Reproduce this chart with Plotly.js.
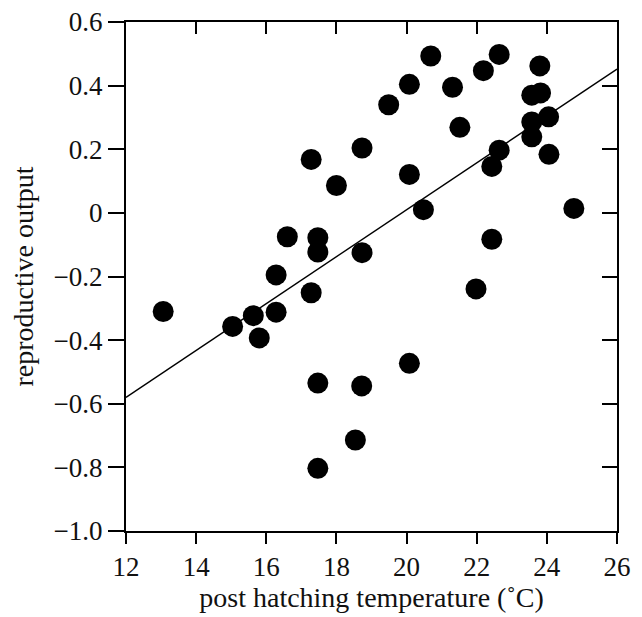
<!DOCTYPE html>
<html>
<head>
<meta charset="utf-8">
<script src="https://cdn.plot.ly/plotly-3.0.1.min.js"></script>
<style>
html,body{margin:0;padding:0;background:#fff;}
#chart{width:642px;height:617px;}
</style>
</head>
<body>
<div id="chart"></div>
<script>
// post hatching temperature (°C)
const temperature = [13.06, 15.04, 15.63, 15.80, 16.28, 16.28, 16.60, 17.28, 17.28, 17.47,
  17.47, 17.47, 17.47, 18.00, 18.73, 18.73, 18.72, 18.54, 19.49, 20.08,
  20.08, 20.08, 20.48, 20.69, 21.31, 21.52, 21.98, 22.19, 22.64, 22.64,
  22.43, 22.43, 23.57, 23.82, 23.80, 23.57, 23.57, 24.05, 24.06, 24.77];
// reproductive output
const output = [-0.310, -0.357, -0.323, -0.393, -0.312, -0.195, -0.075, -0.251, 0.168, -0.078,
  -0.123, -0.535, -0.803, 0.086, 0.204, -0.125, -0.544, -0.714, 0.340, 0.404,
  0.121, -0.473, 0.010, 0.493, 0.395, 0.269, -0.239, 0.447, 0.498, 0.197,
  0.146, -0.083, 0.370, 0.377, 0.462, 0.286, 0.239, 0.302, 0.184, 0.014];
// regression line end points
const fitX = [12, 26];
const fitY = [-0.580, 0.452];

const xTicks = [12, 14, 16, 18, 20, 22, 24, 26];
const xTickText = ['12', '14', '16', '18', '20', '22', '24', '26'];
const yTicks = [-1.0, -0.8, -0.6, -0.4, -0.2, 0, 0.2, 0.4, 0.6];
const yTickText = ['\u22121.0', '\u22120.8', '\u22120.6', '\u22120.4', '\u22120.2', '0', '0.2', '0.4', '0.6'];

const FONT = 'Liberation Serif, Times New Roman, serif';

const traces = [
  {
    x: fitX, y: fitY, type: 'scatter', mode: 'lines',
    line: {color: '#000', width: 1.4},
    hoverinfo: 'skip', showlegend: false
  },
  {
    x: temperature, y: output, type: 'scatter', mode: 'markers',
    marker: {color: '#000', size: 21, line: {width: 0}},
    showlegend: false
  },
  {
    x: fitX, y: fitY, xaxis: 'x2', yaxis: 'y2', type: 'scatter', mode: 'lines',
    line: {color: 'rgba(0,0,0,0)', width: 0},
    hoverinfo: 'skip', showlegend: false
  }
];

const layout = {
  width: 642, height: 617,
  margin: {l: 126, r: 25, t: 22, b: 86},
  paper_bgcolor: '#fff', plot_bgcolor: '#fff',
  font: {family: FONT, color: '#111', size: 27},
  showlegend: false,
  xaxis: {
    range: [12, 26], showgrid: false, zeroline: false,
    showline: true, linecolor: '#000', linewidth: 2,
    ticks: 'outside', ticklen: 11, tickwidth: 2, tickcolor: '#000',
    tickvals: xTicks, ticktext: xTickText,
    tickfont: {family: FONT, size: 27, color: '#111'},
    title: {text: 'post hatching temperature (\u02DAC)', font: {family: FONT, size: 28, color: '#111'}, standoff: 6},
    fixedrange: true
  },
  yaxis: {
    range: [-1.0, 0.6], showgrid: false, zeroline: false,
    showline: true, linecolor: '#000', linewidth: 2,
    ticks: 'outside', ticklen: 16, tickwidth: 2, tickcolor: '#000',
    tickvals: yTicks, ticktext: yTickText,
    tickfont: {family: FONT, size: 27, color: '#111'},
    title: {text: 'reproductive output', font: {family: FONT, size: 28, color: '#111'}, standoff: 12},
    fixedrange: true
  },
  xaxis2: {
    overlaying: 'x', side: 'top', anchor: 'y2', matches: 'x',
    range: [12, 26], showgrid: false, zeroline: false,
    showline: true, linecolor: '#000', linewidth: 2,
    ticks: 'inside', ticklen: 12, tickwidth: 2, tickcolor: '#000',
    tickvals: xTicks, showticklabels: false, fixedrange: true
  },
  yaxis2: {
    overlaying: 'y', side: 'right', anchor: 'x2', matches: 'y',
    range: [-1.0, 0.6], showgrid: false, zeroline: false,
    showline: true, linecolor: '#000', linewidth: 2,
    ticks: 'inside', ticklen: 15, tickwidth: 2, tickcolor: '#000',
    tickvals: yTicks, showticklabels: false, fixedrange: true
  }
};

Plotly.newPlot('chart', traces, layout, {displayModeBar: false, staticPlot: true});
</script>
</body>
</html>
